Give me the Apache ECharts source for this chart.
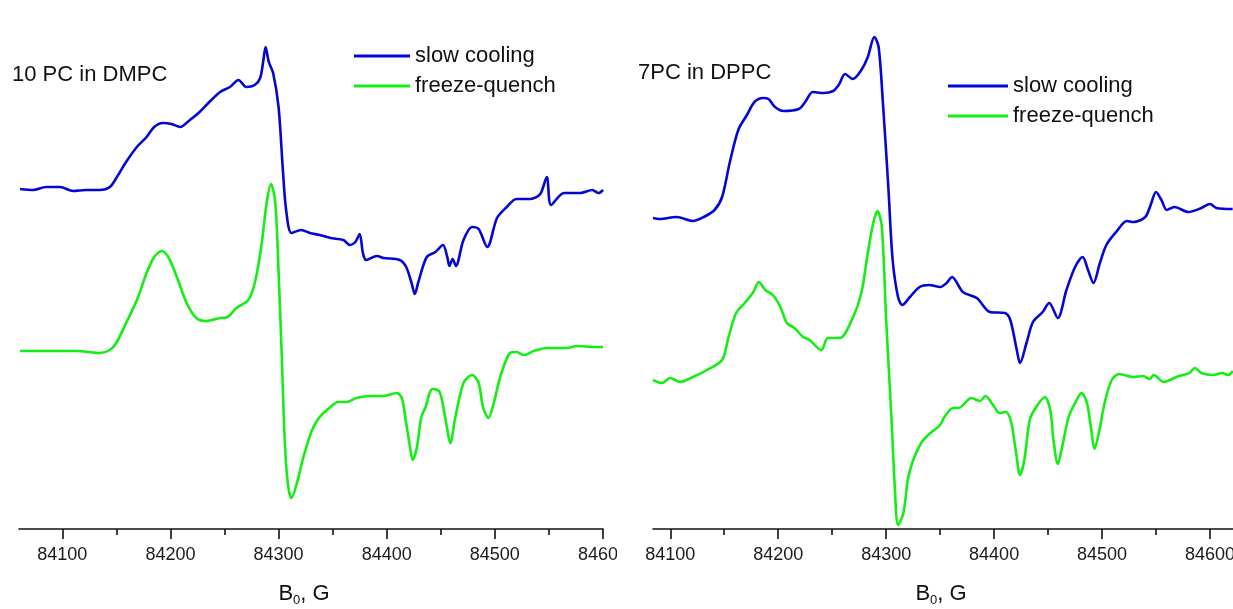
<!DOCTYPE html>
<html>
<head>
<meta charset="utf-8">
<script src="https://cdn.jsdelivr.net/npm/echarts@6/dist/echarts.min.js"></script>
<style>
  html, body { margin: 0; padding: 0; background: #fff; overflow: hidden; }
  #wrap { position: relative; width: 1233px; height: 609px; overflow: hidden; }
  #left { position: absolute; left: 0; top: 0; width: 617px; height: 609px; }
  #right { position: absolute; left: 617px; top: 0; width: 660px; height: 609px; }
</style>
</head>
<body>
<div id="wrap"><div id="left"></div><div id="right"></div></div>
<script>
// EPR spectra (field B0 in gauss, signal in arbitrary units, traces offset vertically)
const seriesNames = ['slow cooling', 'freeze-quench'];
const panelTitles = ['10 PC in DMPC', '7PC in DPPC'];
const majorTicks = [84100, 84200, 84300, 84400, 84500, 84600];
const minorTicks = [84150, 84250, 84350, 84450, 84550];

// 10 PC in DMPC
const dmpcSlow = [
  [84061,340],[84073,339],[84085,342],[84098,342],[84110,338],[84122,339],[84135,339],[84144,342],
  [84150,351],[84159,367],[84169,382],[84178,392],[84185,402],[84193,406],[84201,405],[84209,402],
  [84218,409],[84227,417],[84236,427],[84246,437],[84255,442],[84263,449],[84270,442],[84278,444],
  [84283,451],[84286,469],[84288,482],[84291,467],[84295,456],[84300,422],[84304,359],[84307,319],
  [84312,296],[84321,299],[84329,296],[84338,294],[84348,291],[84360,289],[84366,284],[84371,287],
  [84375,295],[84378,276],[84381,269],[84391,273],[84397,271],[84412,269],[84418,262],[84423,246],
  [84426,235],[84429,246],[84437,272],[84445,277],[84452,284],[84456,272],[84458,263],[84461,270],
  [84464,263],[84471,289],[84479,302],[84485,300],[84493,282],[84502,311],[84511,322],[84520,330],
  [84533,330],[84542,335],[84548,352],[84552,324],[84564,336],[84579,336],[84590,339],[84596,336],
  [84600,339]
];
const dmpcQuench = [
  [84061,178],[84088,178],[84113,178],[84135,176],[84144,179],[84150,186],[84159,206],[84169,229],
  [84178,256],[84185,272],[84192,278],[84198,272],[84206,252],[84215,226],[84224,211],[84233,208],
  [84246,211],[84253,212],[84261,221],[84272,229],[84278,246],[84284,282],[84289,326],[84293,345],
  [84297,326],[84300,258],[84303,172],[84306,82],[84309,42],[84312,31],[84317,46],[84323,72],
  [84331,99],[84338,112],[84347,121],[84355,127],[84363,127],[84372,131],[84385,133],[84397,133],
  [84409,136],[84414,131],[84418,106],[84422,79],[84424,69],[84428,82],[84432,112],[84436,122],
  [84440,137],[84443,140],[84449,137],[84454,112],[84459,86],[84463,109],[84471,146],[84479,154],
  [84485,146],[84489,122],[84494,111],[84499,126],[84505,152],[84514,176],[84520,177],[84527,174],
  [84536,178],[84548,181],[84567,181],[84576,183],[84591,182],[84600,182]
];

// 7PC in DPPC
const dppcSlow = [
  [84084,311],[84090,310],[84106,312],[84121,308],[84131,312],[84141,319],[84148,332],[84155,366],
  [84163,399],[84171,414],[84178,427],[84186,431],[84191,430],[84197,422],[84205,418],[84219,420],
  [84225,427],[84232,437],[84242,436],[84251,438],[84256,444],[84262,455],[84269,450],[84277,459],
  [84283,472],[84289,492],[84293,482],[84297,426],[84302,342],[84306,269],[84311,232],[84315,224],
  [84322,232],[84331,242],[84340,244],[84350,242],[84356,246],[84361,252],[84371,237],[84384,231],
  [84396,217],[84410,216],[84415,209],[84421,179],[84424,166],[84430,186],[84436,207],[84445,217],
  [84451,226],[84459,211],[84467,239],[84475,262],[84482,272],[84487,259],[84492,246],[84498,266],
  [84504,284],[84513,297],[84523,308],[84529,307],[84540,312],[84545,324],[84550,337],[84555,329],
  [84560,319],[84567,322],[84580,317],[84592,321],[84600,325],[84606,321],[84621,320]
];
const dppcQuench = [
  [84084,149],[84092,146],[84100,151],[84109,147],[84121,152],[84134,159],[84148,169],[84154,192],
  [84161,216],[84169,226],[84177,237],[84182,247],[84188,239],[84195,234],[84202,222],[84208,206],
  [84215,201],[84223,192],[84229,189],[84240,179],[84246,191],[84257,191],[84269,211],[84277,236],
  [84283,276],[84288,306],[84292,318],[84296,302],[84300,209],[84305,109],[84308,42],[84311,4],
  [84316,16],[84320,49],[84325,69],[84333,87],[84340,95],[84350,104],[84354,112],[84362,121],
  [84367,121],[84379,131],[84387,128],[84392,133],[84399,124],[84405,116],[84411,117],[84416,106],
  [84420,79],[84424,54],[84428,69],[84433,109],[84439,122],[84447,132],[84452,119],[84455,89],
  [84459,65],[84463,82],[84469,112],[84475,126],[84481,136],[84486,126],[84490,99],[84493,80],
  [84497,96],[84503,129],[84509,149],[84516,155],[84529,152],[84538,153],[84544,150],[84548,154],
  [84557,147],[84569,152],[84575,154],[84581,156],[84586,161],[84592,156],[84603,154],[84611,156],
  [84617,154],[84621,158]
];

const FONT = "'Liberation Sans', Arial, Helvetica, sans-serif";
const BLUE = '#0505d6';
const GREEN = '#14ee14';

function makeOption(cfg) {
  const axisBase = {
    type: 'value', min: cfg.xMin, max: cfg.xMax, position: 'bottom',
    splitLine: { show: false }
  };
  return {
    animation: false,
    backgroundColor: '#fff',
    title: {
      text: cfg.title, left: cfg.titleLeft, top: cfg.titleTop,
      textStyle: { fontFamily: FONT, fontSize: 22, fontWeight: 'normal', color: '#111' }
    },
    legend: {
      data: seriesNames, orient: 'vertical', left: cfg.legendLeft, top: cfg.legendTop,
      icon: 'rect', itemWidth: cfg.legendWidth, itemHeight: 3, itemGap: 6,
      textStyle: { fontFamily: FONT, fontSize: 22, color: '#111', lineHeight: 24 }
    },
    grid: {
      left: cfg.gridLeft, right: cfg.gridRight, top: 29, bottom: 80,
      containLabel: false, outerBoundsMode: 'none'
    },
    xAxis: [
      Object.assign({}, axisBase, {
        name: '{b|B}{s|0}{b|, G}',
        nameLocation: 'middle', nameGap: 51,
        nameTextStyle: {
          padding: [0, cfg.namePad, 0, 0],
          rich: {
            b: { fontFamily: FONT, fontSize: 22, color: '#111' },
            s: { fontFamily: FONT, fontSize: 13, color: '#111', padding: [14, 0, 0, 0] }
          }
        },
        axisLine: { show: true, lineStyle: { color: '#111', width: 1.6 } },
        axisTick: { show: true, inside: false, length: 10, lineStyle: { color: '#111', width: 1.6 }, customValues: majorTicks },
        axisLabel: {
          fontFamily: FONT, fontSize: 18, color: '#1a1a1a', margin: 17,
          customValues: majorTicks, formatter: v => String(v)
        }
      }),
      Object.assign({}, axisBase, {
        axisLine: { show: false },
        axisTick: { show: true, inside: false, length: 6, lineStyle: { color: '#111', width: 1.6 }, customValues: minorTicks },
        axisLabel: { show: false }
      })
    ],
    yAxis: { type: 'value', min: 0, max: 500, show: false },
    series: [
      { name: seriesNames[0], type: 'line', data: cfg.slow, color: BLUE, showSymbol: false, symbol: 'none',
        smooth: 0.3, lineStyle: { color: BLUE, width: 2.6 } },
      { name: seriesNames[1], type: 'line', data: cfg.quench, color: GREEN, showSymbol: false, symbol: 'none',
        smooth: 0.3, lineStyle: { color: GREEN, width: 2.6 } }
    ]
  };
}

const leftChart = echarts.init(document.getElementById('left'), null, { renderer: 'canvas' });
leftChart.setOption(makeOption({
  title: panelTitles[0], titleLeft: 7, titleTop: 59,
  legendLeft: 349, legendTop: 39, legendWidth: 56,
  gridLeft: 19, gridRight: 14, namePad: 14,
  xMin: 84060, xMax: 84600,
  slow: dmpcSlow, quench: dmpcQuench
}));

const rightChart = echarts.init(document.getElementById('right'), null, { renderer: 'canvas' });
rightChart.setOption(makeOption({
  title: panelTitles[1], titleLeft: 16, titleTop: 57,
  legendLeft: 326, legendTop: 69, legendWidth: 60,
  gridLeft: 36, gridRight: 40, namePad: 8,
  xMin: 84084, xMax: 84625,
  slow: dppcSlow, quench: dppcQuench
}));
</script>
</body>
</html>
